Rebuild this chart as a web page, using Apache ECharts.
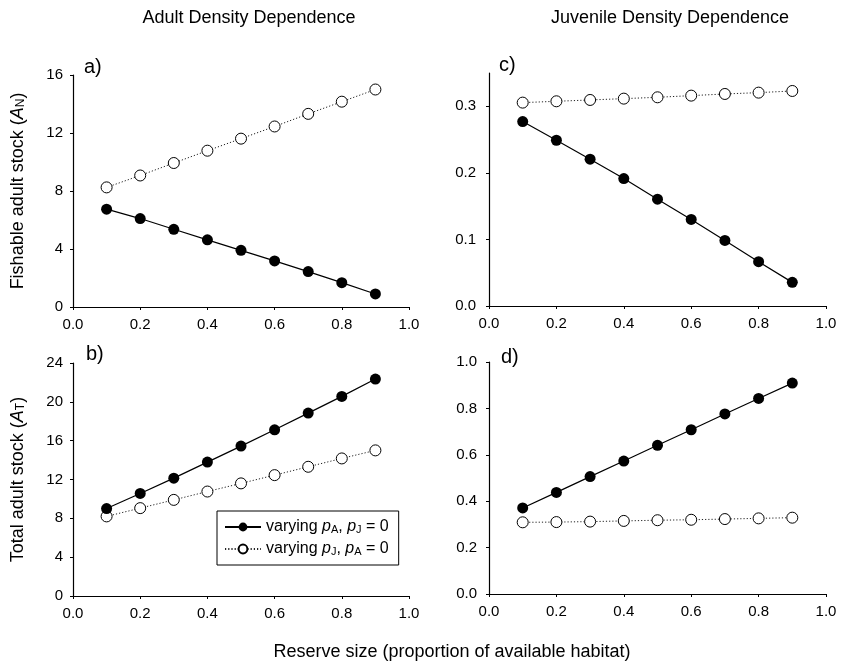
<!DOCTYPE html>
<html>
<head>
<meta charset="utf-8">
<script src="https://cdn.jsdelivr.net/npm/echarts@6/dist/echarts.min.js"></script>
<style>html,body{margin:0;padding:0;background:#fff}#main{width:843px;height:669px}</style>
</head>
<body>
<div id="main"></div>
<script>
// Data
var reserveSize = [0.1, 0.2, 0.3, 0.4, 0.5, 0.6, 0.7, 0.8, 0.9];
// Panel a: fishable adult stock, adult density dependence
var aVaryA = [6.75, 6.10, 5.36, 4.63, 3.91, 3.18, 2.44, 1.68, 0.90];
var aVaryJ = [8.25, 9.07, 9.93, 10.78, 11.61, 12.45, 13.32, 14.16, 15.00];
// Panel b: total adult stock, adult density dependence
var bVaryA = [9.01, 10.56, 12.14, 13.79, 15.44, 17.12, 18.84, 20.56, 22.35];
var bVaryJ = [8.20, 9.05, 9.90, 10.76, 11.60, 12.45, 13.31, 14.17, 15.00];
// Panel c: fishable adult stock, juvenile density dependence
var cVaryA = [0.277, 0.249, 0.2205, 0.1915, 0.1605, 0.130, 0.0985, 0.0665, 0.0355];
var cVaryJ = [0.3055, 0.3075, 0.3095, 0.3115, 0.3135, 0.316, 0.3185, 0.3205, 0.323];
// Panel d: total adult stock, juvenile density dependence
var dVaryA = [0.371, 0.438, 0.506, 0.573, 0.641, 0.708, 0.776, 0.843, 0.909];
var dVaryJ = [0.309, 0.310, 0.312, 0.315, 0.318, 0.320, 0.323, 0.326, 0.329];

var colTitles = ['Adult Density Dependence', 'Juvenile Density Dependence'];
var panelLabels = ['a)', 'b)', 'c)', 'd)'];
var xAxisTitle = 'Reserve size (proportion of available habitat)';
var legendNames = ['varyA', 'varyJ'];

var FONT = '"Liberation Sans", Arial, Helvetica, sans-serif';
var chart = echarts.init(document.getElementById('main'), null, {renderer: 'canvas'});

function pairs(ys) { return reserveSize.map(function (x, i) { return [x, ys[i]]; }); }

var grids = [
  {left: 73, top: 75, width: 336, height: 232},
  {left: 73, top: 363, width: 336, height: 233},
  {left: 489, top: 73, width: 337, height: 233},
  {left: 489, top: 362, width: 337, height: 232}
];

function xAxisFor(i) {
  return {
    type: 'value', gridIndex: i, min: 0, max: 1, interval: 0.2,
    axisLine: {lineStyle: {color: '#000', width: 1.2}},
    axisTick: {length: 3, lineStyle: {color: '#000'}},
    splitLine: {show: false},
    axisLabel: {color: '#000', fontSize: 15, fontFamily: FONT, margin: 10,
      formatter: function (v) { return v.toFixed(1); }}
  };
}
var richName = {
  t: {fontSize: 18, fontFamily: FONT, color: '#000'},
  i: {fontStyle: 'italic', fontSize: 18, fontFamily: FONT, color: '#000'},
  sub: {fontSize: 12, fontFamily: FONT, color: '#000', verticalAlign: 'bottom', padding: [6, 0, 0, 0]}
};
function yAxisFor(i, max, interval, dec, name, custom, margin) {
  var ax = {
    type: 'value', gridIndex: i, min: 0, max: max, interval: interval,
    axisLine: {show: true, lineStyle: {color: '#000', width: 1.2}},
    axisTick: {show: true, length: 3, lineStyle: {color: '#000'}},
    splitLine: {show: false},
    axisLabel: {color: '#000', fontSize: 15, fontFamily: FONT, margin: margin,
      formatter: function (v) { return v.toFixed(dec); }}
  };
  if (custom) {
    ax.axisTick.customValues = custom;
    ax.axisLabel.customValues = custom;
  }
  if (name) {
    ax.name = name;
    ax.nameLocation = 'middle';
    ax.nameGap = 46;
    ax.nameTextStyle = {fontSize: 18, fontFamily: FONT, color: '#000', rich: richName};
  }
  return ax;
}

function solid(i, data) {
  return {
    name: 'varyA', type: 'line', xAxisIndex: i, yAxisIndex: i, data: pairs(data),
    symbol: 'circle', symbolSize: 11, color: '#000',
    itemStyle: {color: '#000'},
    lineStyle: {color: '#000', width: 1.2, type: 'solid'},
    silent: true, animation: false, z: 3
  };
}
function open(i, data) {
  return {
    name: 'varyJ', type: 'line', xAxisIndex: i, yAxisIndex: i, data: pairs(data),
    symbol: 'circle', symbolSize: 11, color: '#000',
    itemStyle: {color: '#fff', borderColor: '#000', borderWidth: 1},
    lineStyle: {color: '#222', width: 1, type: [1.2, 2]},
    silent: true, animation: false, z: 2
  };
}

var legendRich = {
  t: {fontSize: 16, fontFamily: FONT, color: '#000'},
  i: {fontSize: 16, fontFamily: FONT, fontStyle: 'italic', color: '#000'},
  sub: {fontSize: 11, fontFamily: FONT, color: '#000', verticalAlign: 'bottom', padding: [5, 0, 0, 0]}
};

var option = {
  backgroundColor: '#fff',
  animation: false,
  textStyle: {fontFamily: FONT},
  grid: grids,
  xAxis: [xAxisFor(0), xAxisFor(1), xAxisFor(2), xAxisFor(3)],
  yAxis: [
    yAxisFor(0, 16, 4, 0, '{t|Fishable adult stock (}{i|A}{sub|N}{t|)}', null, 10),
    yAxisFor(1, 24, 4, 0, '{t|Total adult stock (}{i|A}{sub|T}{t|)}', null, 10),
    yAxisFor(2, 0.35, 0.1, 1, null, [0, 0.1, 0.2, 0.3], 13),
    yAxisFor(3, 1.0, 0.2, 1, null, null, 12)
  ],
  legend: {
    data: legendNames,
    left: 217, top: 511,
    orient: 'vertical',
    itemWidth: 36, itemHeight: 11, itemGap: 6,
    padding: [8, 10, 8, 7],
    borderColor: '#000', borderWidth: 1,
    backgroundColor: '#fff',
    selectedMode: false,
    textStyle: {fontSize: 16, fontFamily: FONT, color: '#000', rich: legendRich},
    formatter: function (n) {
      if (n === 'varyA') return '{t|varying }{i|p}{sub|A}{t|, }{i|p}{sub|J}{t| = 0}';
      return '{t|varying }{i|p}{sub|J}{t|, }{i|p}{sub|A}{t| = 0}';
    }
  },
  graphic: [
    {type: 'text', x: 249, y: 18, style: {text: colTitles[0], font: '18px ' + FONT, fill: '#000', textAlign: 'center', textVerticalAlign: 'middle'}},
    {type: 'text', x: 670, y: 18, style: {text: colTitles[1], font: '18px ' + FONT, fill: '#000', textAlign: 'center', textVerticalAlign: 'middle'}},
    {type: 'text', x: 452, y: 652, style: {text: xAxisTitle, font: '18px ' + FONT, fill: '#000', textAlign: 'center', textVerticalAlign: 'middle'}},
    {type: 'text', x: 84, y: 67, style: {text: panelLabels[0], font: '20px ' + FONT, fill: '#000', textVerticalAlign: 'middle'}},
    {type: 'text', x: 86, y: 354, style: {text: panelLabels[1], font: '20px ' + FONT, fill: '#000', textVerticalAlign: 'middle'}},
    {type: 'text', x: 499, y: 65, style: {text: panelLabels[2], font: '20px ' + FONT, fill: '#000', textVerticalAlign: 'middle'}},
    {type: 'text', x: 501, y: 357, style: {text: panelLabels[3], font: '20px ' + FONT, fill: '#000', textVerticalAlign: 'middle'}}
  ],
  series: [
    open(0, aVaryJ), solid(0, aVaryA),
    open(1, bVaryJ), solid(1, bVaryA),
    open(2, cVaryJ), solid(2, cVaryA),
    open(3, dVaryJ), solid(3, dVaryA)
  ]
};
chart.setOption(option);
</script>
</body>
</html>
